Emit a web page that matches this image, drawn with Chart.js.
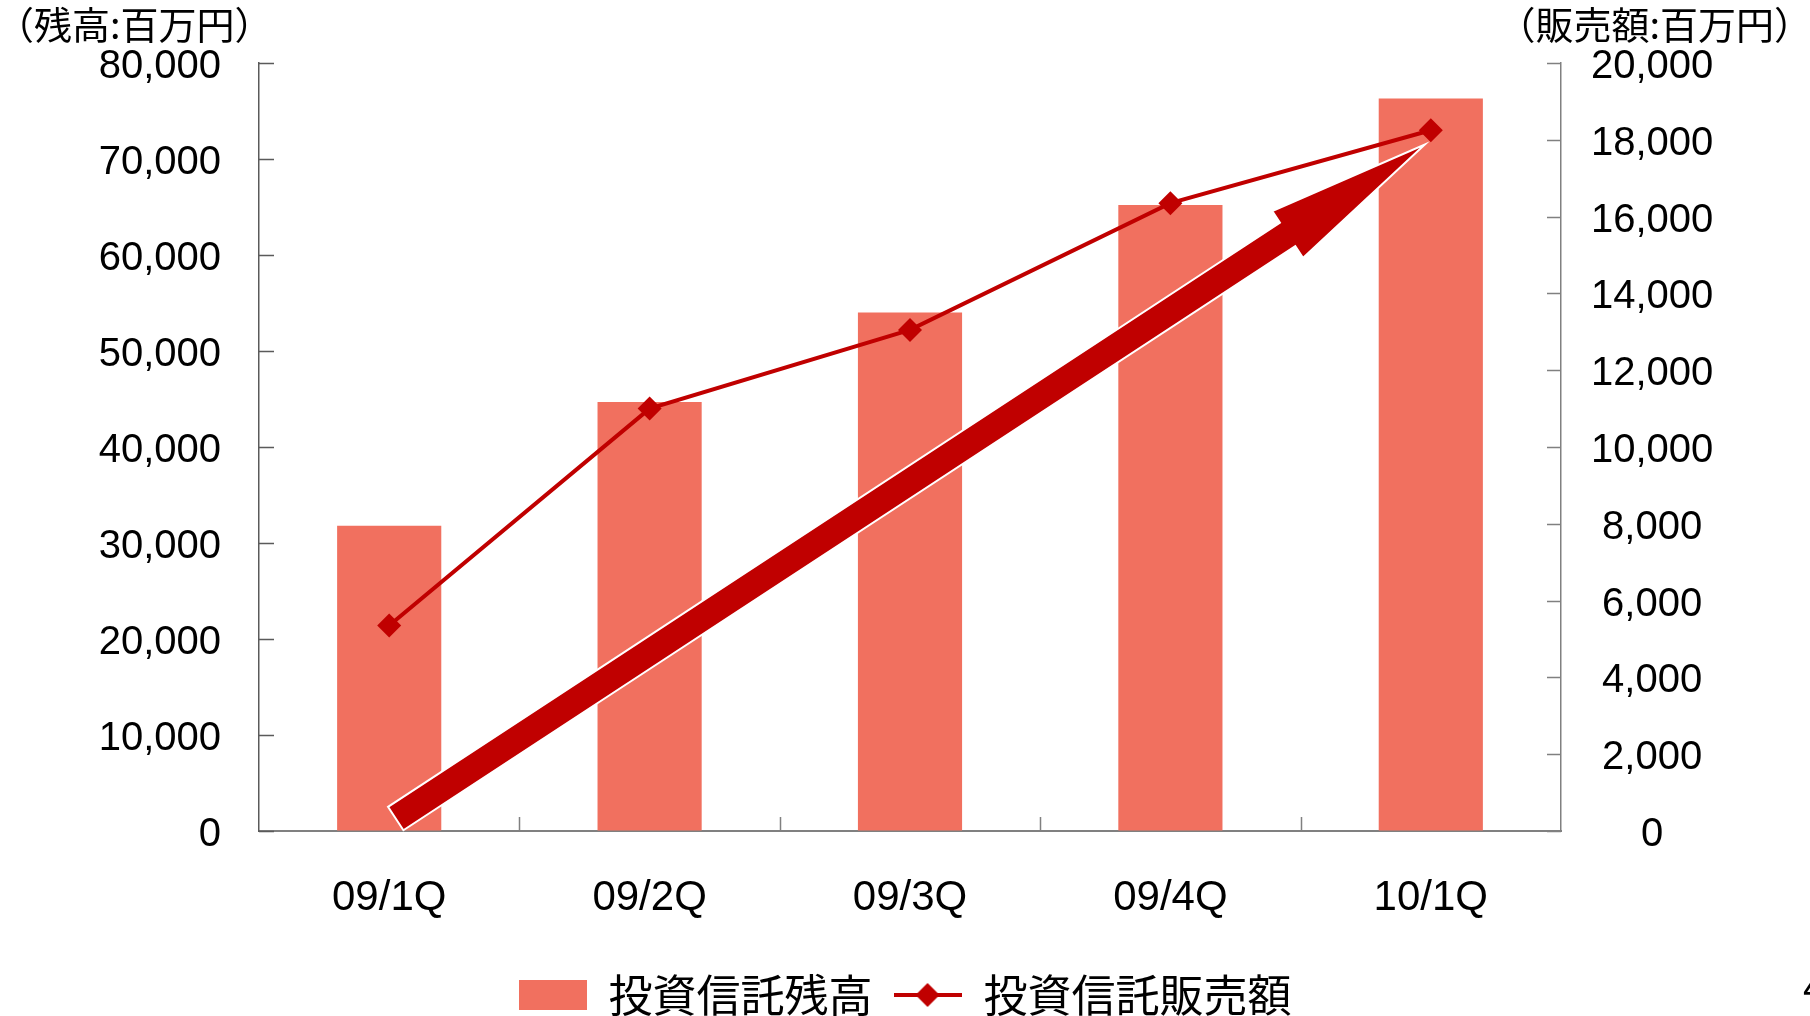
<!DOCTYPE html>
<html lang="ja">
<head>
<meta charset="utf-8">
<title>投資信託残高・販売額</title>
<script src="https://cdn.jsdelivr.net/npm/chart.js@4.4.1/dist/chart.umd.min.js"></script>
<style>
  html, body { margin: 0; padding: 0; background: #fff; overflow: hidden; }
  #wrap { width: 1810px; height: 1027px; }
</style>
</head>
<body>
<div id="wrap"><canvas id="fundChart" width="1810" height="1027"></canvas></div>
<script>
// --- DATA (百万円) ---
const quarters = ['09/1Q', '09/2Q', '09/3Q', '09/4Q', '10/1Q'];
const balance = [31800, 44700, 54000, 65200, 76300];   // 投資信託残高
const sales = [5350, 11000, 13050, 16350, 18250];      // 投資信託販売額
const balanceTicks = [0, 10000, 20000, 30000, 40000, 50000, 60000, 70000, 80000];
const salesTicks = [0, 2000, 4000, 6000, 8000, 10000, 12000, 14000, 16000, 18000, 20000];

// trend arrow, in axis units (category index, 残高)
const trendFrom = { x: 0.025, y: 1300 };
const trendTo = { x: 3.977, y: 71500 };

const BAR_COLOR = '#F1705F';
const LINE_COLOR = '#C00000';
const JP_FONT = '"Noto Sans CJK JP", sans-serif';
const NUM_FONT = '"Liberation Sans", Arial, sans-serif';

// legend swatches
function makeSwatch(drawFn) {
    const c = document.createElement('canvas');
    c.width = 68; c.height = 30;
    drawFn(c.getContext('2d'));
    return c;
}
const barSwatch = makeSwatch(g => {
    g.fillStyle = BAR_COLOR;
    g.fillRect(0, 0, 68, 30);
});
const lineSwatch = makeSwatch(g => {
    g.fillStyle = LINE_COLOR;
    g.fillRect(0, 13, 68, 4);
    g.beginPath();
    g.moveTo(22, 15); g.lineTo(34, 3); g.lineTo(46, 15); g.lineTo(34, 27);
    g.closePath();
    g.fill();
});

// ticks pointing into the plot, like the old spreadsheet charts
const inwardTicks = {
    id: 'inwardTicks',
    afterDraw(chart) {
        const { ctx, chartArea: a, scales: { x, y, y1 } } = chart;
        ctx.save();
        ctx.lineWidth = 1.5;
        ctx.strokeStyle = '#5a5a5a';
        ctx.beginPath();
        y.ticks.forEach(t => {
            const py = Math.round(y.getPixelForValue(t.value)) + 0.5;
            ctx.moveTo(a.left, py); ctx.lineTo(a.left + 15, py);
        });
        ctx.stroke();
        ctx.strokeStyle = '#808080';
        ctx.beginPath();
        y1.ticks.forEach(t => {
            const py = Math.round(y1.getPixelForValue(t.value)) + 0.5;
            ctx.moveTo(a.right - 14, py); ctx.lineTo(a.right, py);
        });
        for (let i = 1; i < quarters.length; i++) {
            const px = Math.round(x.getPixelForValue(i - 0.5)) + 0.5;
            ctx.moveTo(px, a.bottom); ctx.lineTo(px, a.bottom - 14);
        }
        ctx.stroke();
        ctx.restore();
    }
};

// big growth arrow across the bars
const trendArrow = {
    id: 'trendArrow',
    afterDatasetsDraw(chart) {
        const { ctx, scales: { x, y } } = chart;
        const tx = x.getPixelForValue(trendFrom.x), ty = y.getPixelForValue(trendFrom.y);
        const px = x.getPixelForValue(trendTo.x), py = y.getPixelForValue(trendTo.y);
        const len = Math.hypot(px - tx, py - ty);
        const ux = (px - tx) / len, uy = (py - ty) / len;
        const nx = -uy, ny = ux;
        const shaft = 14, wing = 28, head = 164;
        const bx = px - ux * head, by = py - uy * head;
        const pts = [
            [tx + nx * shaft, ty + ny * shaft],
            [bx + nx * shaft, by + ny * shaft],
            [bx + nx * wing, by + ny * wing],
            [px, py],
            [bx - nx * wing, by - ny * wing],
            [bx - nx * shaft, by - ny * shaft],
            [tx - nx * shaft, ty - ny * shaft]
        ];
        ctx.save();
        ctx.beginPath();
        pts.forEach((p, i) => i ? ctx.lineTo(p[0], p[1]) : ctx.moveTo(p[0], p[1]));
        ctx.closePath();
        ctx.fillStyle = LINE_COLOR;
        ctx.fill();
        ctx.lineWidth = 2;
        ctx.lineJoin = 'miter';
        ctx.strokeStyle = '#fff';
        ctx.stroke();
        ctx.restore();
    }
};

// unit captions above both axes, plus the page number at the edge
const axisCaptions = {
    id: 'axisCaptions',
    afterDraw(chart) {
        const { ctx, width } = chart;
        ctx.save();
        ctx.fillStyle = '#000';
        ctx.textBaseline = 'middle';
        ctx.font = '38px ' + JP_FONT;
        ctx.textAlign = 'left';
        ctx.fillText('（残高:百万円）', -4, 25);
        ctx.textAlign = 'right';
        ctx.fillText('（販売額:百万円）', width + 2, 25);
        ctx.textAlign = 'left';
        ctx.textBaseline = 'alphabetic';
        ctx.font = '40px ' + NUM_FONT;
        ctx.fillText('4', 1803, 1001);
        ctx.restore();
    }
};

const fmt = v => Number(v).toLocaleString('en-US');

const ctx = document.getElementById('fundChart').getContext('2d');
new Chart(ctx, {
    data: {
        labels: quarters,
        datasets: [
            {
                type: 'bar',
                label: '投資信託残高',
                data: balance,
                yAxisID: 'y',
                backgroundColor: BAR_COLOR,
                barPercentage: 0.4,
                categoryPercentage: 1.0,
                order: 1
            },
            {
                type: 'line',
                label: '投資信託販売額',
                data: sales,
                yAxisID: 'y1',
                borderColor: LINE_COLOR,
                borderWidth: 4,
                tension: 0,
                pointStyle: 'rectRot',
                pointRadius: 12,
                pointBorderWidth: 0,
                pointBackgroundColor: LINE_COLOR,
                order: 0
            }
        ]
    },
    options: {
        responsive: false,
        devicePixelRatio: 1,
        animation: false,
        layout: { padding: { top: 63, left: 0, right: 0, bottom: 0 } },
        scales: {
            x: {
                offset: true,
                grid: { display: true, drawOnChartArea: false, drawTicks: false },
                border: { color: '#808080', width: 2 },
                ticks: {
                    color: '#000',
                    font: { family: NUM_FONT, size: 42 },
                    padding: 42,
                    maxRotation: 0,
                    autoSkip: false
                },
                afterFit: s => { s.height = 121; }
            },
            y: {
                position: 'left',
                min: 0,
                max: 80000,
                afterBuildTicks: s => { s.ticks = balanceTicks.map(v => ({ value: v })); },
                grid: { display: true, drawOnChartArea: false, drawTicks: false },
                border: { color: '#5a5a5a', width: 1.5 },
                ticks: {
                    color: '#000',
                    font: { family: NUM_FONT, size: 40 },
                    padding: 38,
                    labelOffset: 4,
                    callback: fmt
                },
                afterFit: s => { s.width = 259; }
            },
            y1: {
                position: 'right',
                min: 0,
                max: 20000,
                afterBuildTicks: s => { s.ticks = salesTicks.map(v => ({ value: v })); },
                grid: { display: true, drawOnChartArea: false, drawTicks: false },
                border: { color: '#808080', width: 1.5 },
                ticks: {
                    color: '#000',
                    font: { family: NUM_FONT, size: 40 },
                    padding: 30,
                    crossAlign: 'center',
                    labelOffset: 4,
                    callback: fmt
                },
                afterFit: s => { s.width = 249; }
            }
        },
        plugins: {
            tooltip: { enabled: false },
            legend: {
                position: 'bottom',
                labels: {
                    usePointStyle: true,
                    pointStyleWidth: 68,
                    boxHeight: 30,
                    padding: 21,
                    color: '#000',
                    font: { family: JP_FONT, size: 44 },
                    generateLabels: () => [
                        { text: '投資信託残高', pointStyle: barSwatch, fillStyle: BAR_COLOR, lineWidth: 0, strokeStyle: 'rgba(0,0,0,0)', datasetIndex: 0, hidden: false },
                        { text: '投資信託販売額', pointStyle: lineSwatch, fillStyle: LINE_COLOR, lineWidth: 0, strokeStyle: 'rgba(0,0,0,0)', datasetIndex: 1, hidden: false }
                    ]
                }
            }
        }
    },
    plugins: [trendArrow, inwardTicks, axisCaptions]
});
</script>
</body>
</html>
